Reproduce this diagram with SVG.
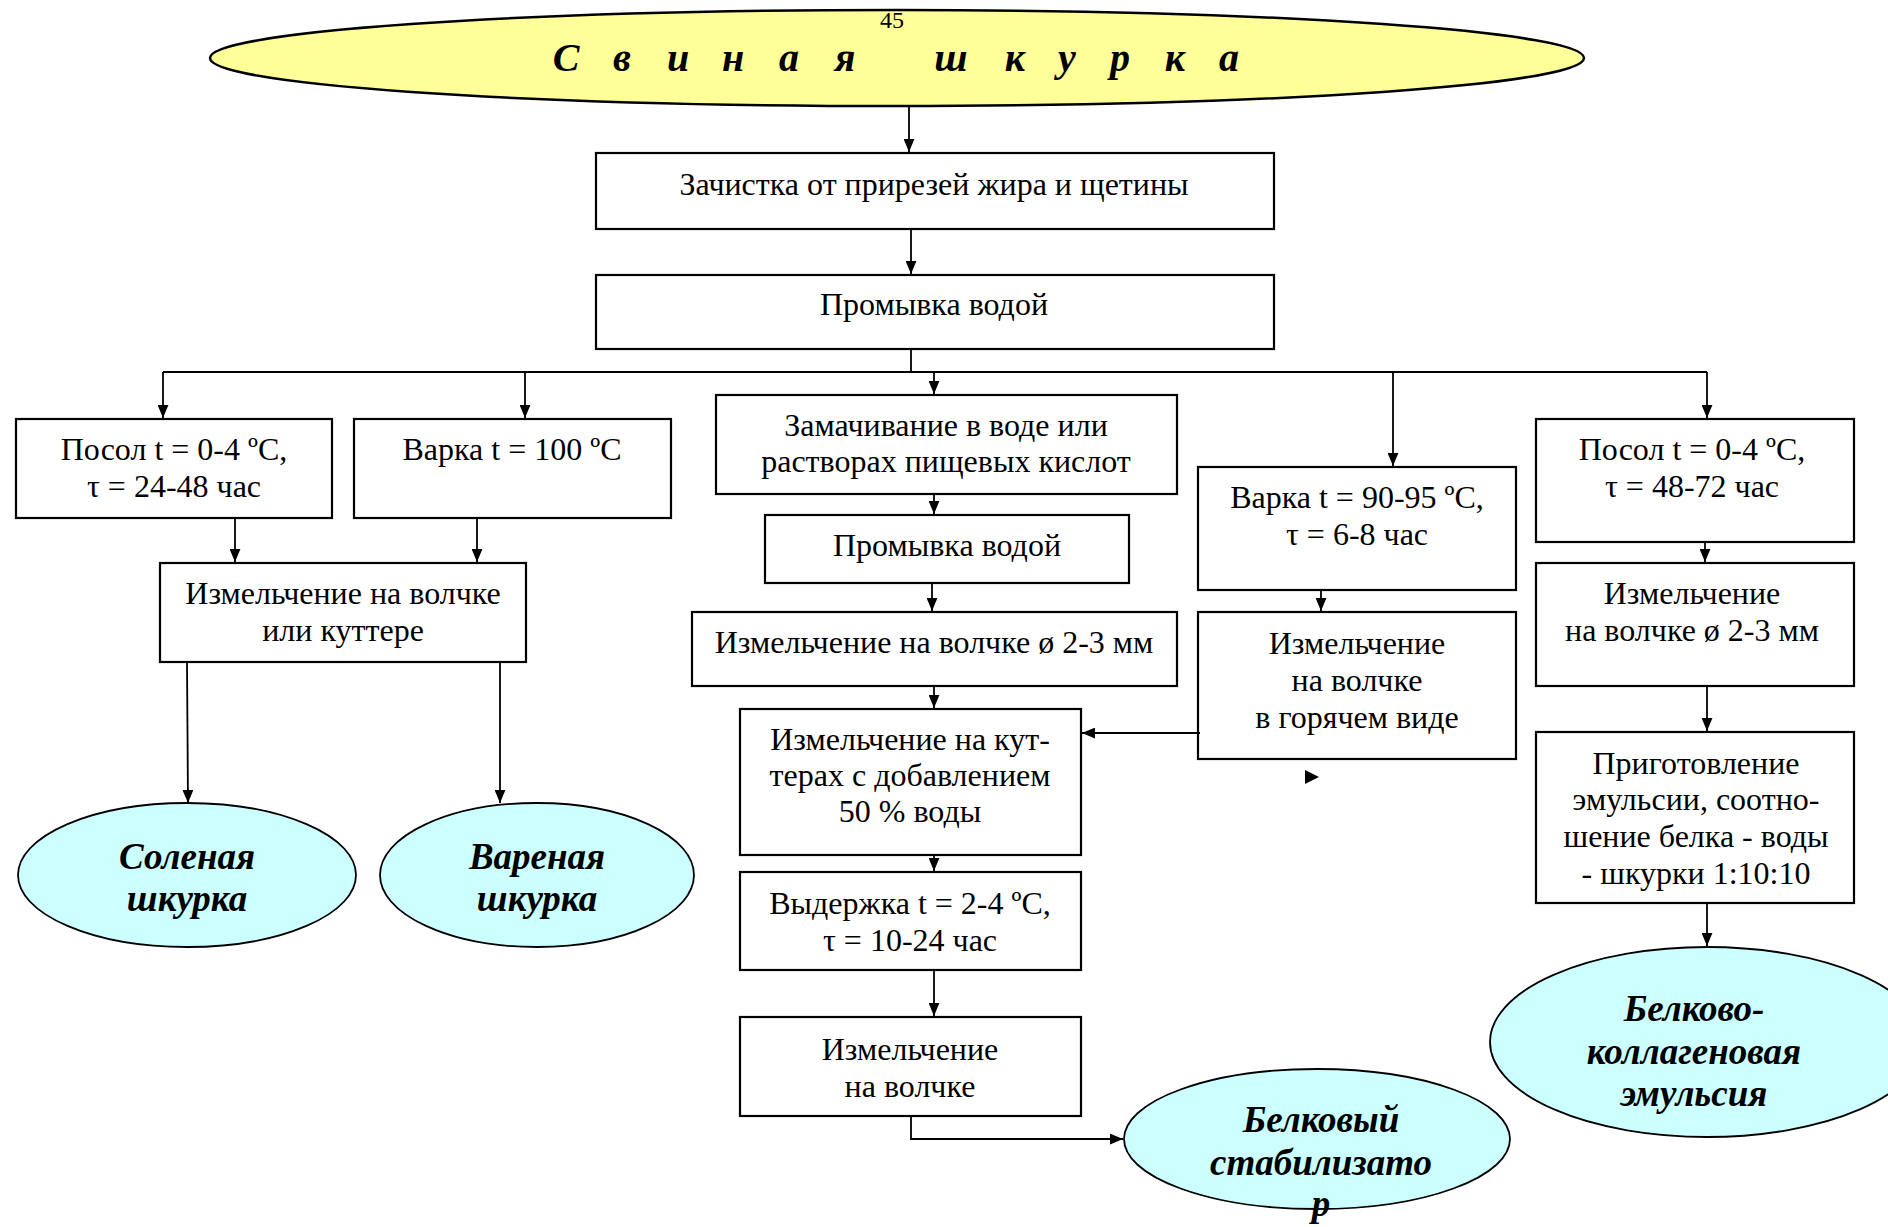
<svg xmlns="http://www.w3.org/2000/svg" width="1888" height="1227" viewBox="0 0 1888 1227">
<style>
  .box { fill: #ffffff; stroke: #000; stroke-width: 2.2; }
  .t { font-family: "Liberation Serif", "Times New Roman", serif; font-size: 32px; fill: #000; text-anchor: middle; }
  .res { fill: #CCFFFF; stroke: #000; stroke-width: 1.8; }
  .rt { font-family: "Liberation Serif", "Times New Roman", serif; font-size: 37px; font-weight: bold; font-style: italic; fill: #000; text-anchor: middle; }
  .c { fill: none; stroke: #000; stroke-width: 1.8; }
  .a { marker-end: url(#arr); }
</style>
<defs>
  <marker id="arr" viewBox="0 0 12 10" markerWidth="13" markerHeight="11" refX="12" refY="5" orient="auto" markerUnits="userSpaceOnUse">
    <path d="M0,0 L12,5 L0,10 z" fill="#000"/>
  </marker>
</defs>
<rect width="1888" height="1227" fill="#ffffff"/>

<g id="n-top">
  <ellipse cx="897" cy="58" rx="687" ry="48" fill="#FFFF99" stroke="#000" stroke-width="2.5"/>
  <text x="892" y="28" font-family="Liberation Serif, serif" font-size="24" text-anchor="middle">45</text>
  <text y="71" x="566 622 678 733 789 845 951 1015 1067 1120 1175 1229" font-family="Liberation Serif, serif" font-size="40" font-weight="bold" font-style="italic" text-anchor="middle">Свинаяшкурка</text>
</g>

<g id="n-clean">
  <rect class="box" x="596" y="153" width="678" height="76"/>
  <text class="t" x="934" y="195">Зачистка от прирезей жира и щетины</text>
</g>
<g id="n-wash1">
  <rect class="box" x="596" y="275" width="678" height="74"/>
  <text class="t" x="934" y="315">Промывка водой</text>
</g>

<g id="n-salt1">
  <rect class="box" x="16" y="419" width="316" height="99"/>
  <text class="t" x="174" y="460">Посол t = 0-4 ºС,</text>
  <text class="t" x="174" y="497">τ = 24-48 час</text>
</g>
<g id="n-boil100">
  <rect class="box" x="354" y="419" width="317" height="99"/>
  <text class="t" x="512" y="460">Варка t = 100 ºС</text>
</g>
<g id="n-grind1">
  <rect class="box" x="160" y="563" width="366" height="99"/>
  <text class="t" x="343" y="604">Измельчение на волчке</text>
  <text class="t" x="343" y="641">или куттере</text>
</g>
<g id="n-res-salt">
  <ellipse class="res" cx="187" cy="875" rx="169" ry="72"/>
  <text class="rt" x="187" y="869">Соленая</text>
  <text class="rt" x="187" y="911">шкурка</text>
</g>
<g id="n-res-boil">
  <ellipse class="res" cx="537" cy="875" rx="157" ry="72"/>
  <text class="rt" x="537" y="869">Вареная</text>
  <text class="rt" x="537" y="911">шкурка</text>
</g>

<g id="n-soak">
  <rect class="box" x="716" y="395" width="461" height="99"/>
  <text class="t" x="946" y="436">Замачивание в воде или</text>
  <text class="t" x="946" y="472">растворах пищевых кислот</text>
</g>
<g id="n-wash2">
  <rect class="box" x="765" y="515" width="364" height="68"/>
  <text class="t" x="947" y="556">Промывка водой</text>
</g>
<g id="n-grind2">
  <rect class="box" x="692" y="612" width="485" height="74"/>
  <text class="t" x="934" y="653">Измельчение на волчке ø 2-3 мм</text>
</g>
<g id="n-cutter">
  <rect class="box" x="740" y="709" width="341" height="146"/>
  <text class="t" x="910" y="750">Измельчение на кут-</text>
  <text class="t" x="910" y="786">терах с добавлением</text>
  <text class="t" x="910" y="822">50 % воды</text>
</g>
<g id="n-hold">
  <rect class="box" x="740" y="872" width="341" height="98"/>
  <text class="t" x="910" y="914">Выдержка t = 2-4 ºС,</text>
  <text class="t" x="910" y="951">τ = 10-24 час</text>
</g>
<g id="n-grind3">
  <rect class="box" x="740" y="1017" width="341" height="99"/>
  <text class="t" x="910" y="1060">Измельчение</text>
  <text class="t" x="910" y="1097">на волчке</text>
</g>
<g id="n-res-stab">
  <ellipse class="res" cx="1317" cy="1139" rx="193" ry="70"/>
  <text class="rt" x="1321" y="1132">Белковый</text>
  <text class="rt" x="1321" y="1175">стабилизато</text>
  <text class="rt" x="1321" y="1216">р</text>
</g>

<g id="n-boil90">
  <rect class="box" x="1198" y="467" width="318" height="123"/>
  <text class="t" x="1357" y="508">Варка t = 90-95 ºС,</text>
  <text class="t" x="1357" y="545">τ = 6-8 час</text>
</g>
<g id="n-grindhot">
  <rect class="box" x="1198" y="612" width="318" height="147"/>
  <text class="t" x="1357" y="654">Измельчение</text>
  <text class="t" x="1357" y="691">на волчке</text>
  <text class="t" x="1357" y="728">в горячем виде</text>
</g>

<g id="n-salt2">
  <rect class="box" x="1536" y="419" width="318" height="123"/>
  <text class="t" x="1692" y="460">Посол t = 0-4 ºС,</text>
  <text class="t" x="1692" y="497">τ = 48-72 час</text>
</g>
<g id="n-grind4">
  <rect class="box" x="1536" y="563" width="318" height="123"/>
  <text class="t" x="1692" y="604">Измельчение</text>
  <text class="t" x="1692" y="641">на волчке ø 2-3 мм</text>
</g>
<g id="n-emul">
  <rect class="box" x="1536" y="732" width="318" height="171"/>
  <text class="t" x="1696" y="774">Приготовление</text>
  <text class="t" x="1696" y="810">эмульсии, соотно-</text>
  <text class="t" x="1696" y="847">шение белка - воды</text>
  <text class="t" x="1696" y="884">- шкурки 1:10:10</text>
</g>
<g id="n-res-emul">
  <ellipse class="res" cx="1707" cy="1042" rx="217" ry="95"/>
  <text class="rt" x="1694" y="1021">Белково-</text>
  <text class="rt" x="1694" y="1064">коллагеновая</text>
  <text class="rt" x="1694" y="1106">эмульсия</text>
</g>

<g id="connectors">
  <line class="c a" x1="909" y1="106" x2="909" y2="152"/>
  <line class="c a" x1="911" y1="229" x2="911" y2="274"/>
  <line class="c" x1="911" y1="349" x2="911" y2="372"/>
  <line class="c" x1="163" y1="372" x2="1707" y2="372"/>
  <line class="c a" x1="163" y1="372" x2="163" y2="418"/>
  <line class="c a" x1="525" y1="372" x2="525" y2="418"/>
  <line class="c a" x1="934" y1="372" x2="934" y2="394"/>
  <line class="c a" x1="1393" y1="372" x2="1393" y2="466"/>
  <line class="c a" x1="1707" y1="372" x2="1707" y2="418"/>
  <line class="c a" x1="235" y1="518" x2="235" y2="562"/>
  <line class="c a" x1="477" y1="518" x2="477" y2="562"/>
  <line class="c a" x1="187" y1="662" x2="188" y2="803"/>
  <line class="c a" x1="500" y1="662" x2="500" y2="803"/>
  <line class="c a" x1="934" y1="494" x2="934" y2="514"/>
  <line class="c a" x1="932" y1="583" x2="932" y2="611"/>
  <line class="c a" x1="934" y1="686" x2="934" y2="708"/>
  <line class="c a" x1="1200" y1="733" x2="1082" y2="733"/>
  <line class="c a" x1="934" y1="855" x2="934" y2="871"/>
  <line class="c a" x1="934" y1="970" x2="934" y2="1016"/>
  <polyline class="c a" points="911,1116 911,1139 1123,1139"/>
  <line class="c a" x1="1321" y1="590" x2="1321" y2="611"/>
  <polygon points="1305,770 1319,777 1305,784" fill="#000"/>
  <line class="c a" x1="1705" y1="542" x2="1705" y2="562"/>
  <line class="c a" x1="1707" y1="686" x2="1707" y2="731"/>
  <line class="c a" x1="1707" y1="903" x2="1707" y2="946"/>
</g>
</svg>
